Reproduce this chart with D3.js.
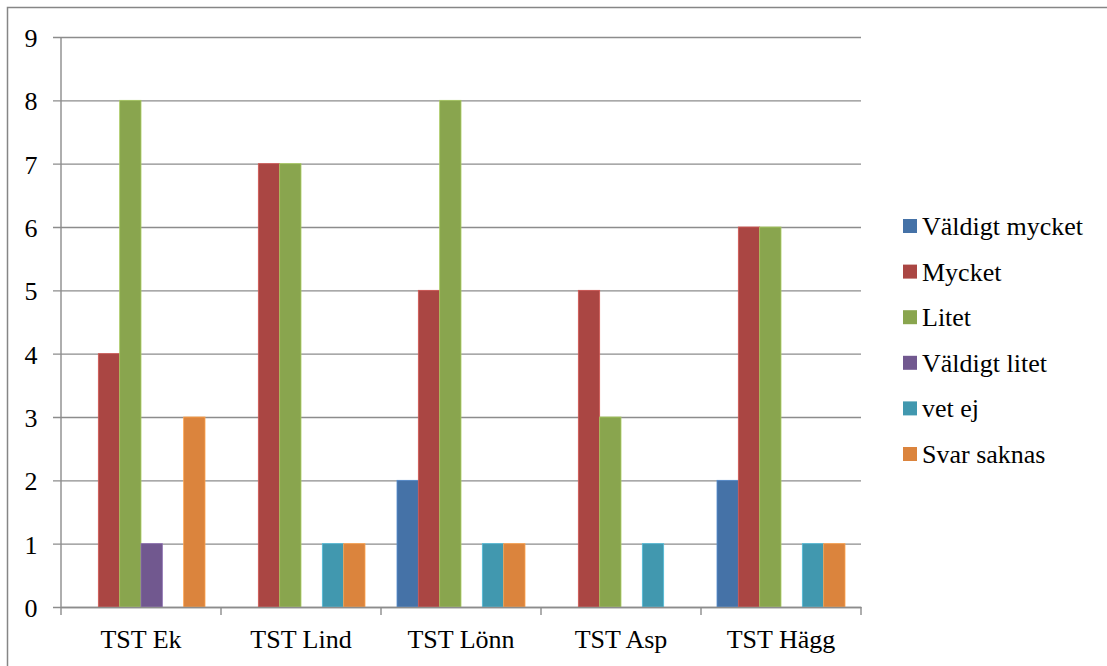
<!DOCTYPE html>
<html>
<head>
<meta charset="utf-8">
<script src="https://cdn.jsdelivr.net/npm/d3@7"></script>
</head>
<body style="margin:0;background:#fff">
<svg id="fig" width="1107" height="666" style="display:block"></svg>
<script>
// Survey answers per group
const categories = ["TST Ek", "TST Lind", "TST Lönn", "TST Asp", "TST Hägg"];
const seriesNames = ["Väldigt mycket", "Mycket", "Litet", "Väldigt litet", "vet ej", "Svar saknas"];
const valdigtMycket = [0, 0, 2, 0, 2];
const mycket        = [4, 7, 5, 5, 6];
const litet         = [8, 7, 8, 3, 6];
const valdigtLitet  = [1, 0, 0, 0, 0];
const vetEj         = [0, 1, 1, 1, 1];
const svarSaknas    = [3, 1, 1, 0, 1];
const yTicks = [0, 1, 2, 3, 4, 5, 6, 7, 8, 9];
const colors = ["#4572A7", "#AA4643", "#89A54E", "#71588F", "#4198AF", "#DB843D"];

const seriesValues = [valdigtMycket, mycket, litet, valdigtLitet, vetEj, svarSaknas];
const labelFamily = "Liberation Serif";

const svg = d3.select("#fig");
const plot = { left: 61, right: 861, top: 37, bottom: 607 };

// Outer frame
svg.append("rect")
  .attr("x", 7.5).attr("y", 7.5)
  .attr("width", 1120).attr("height", 680)
  .attr("fill", "none").attr("stroke", "#868686").attr("stroke-width", 1.5);

const x = d3.scaleBand().domain(categories).range([plot.left, plot.right]).padding(0);
const y = d3.scaleLinear().domain([0, 9]).range([plot.bottom, plot.top]);
// Bars fill 6 of 7.5 slot widths, leaving a 150% gap
const xs = d3.scaleBand().domain(d3.range(seriesNames.length))
  .range([0, x.bandwidth()]).paddingInner(0).paddingOuter(0.75);

// Gridlines drawn by the y axis: ticks run from 8px left of the axis to the right edge
const yAxis = d3.axisLeft(y).tickValues(yTicks).tickSize(8).tickPadding(14).tickFormat(d3.format("d"));
const gy = svg.append("g").attr("transform", `translate(${plot.left},0)`).call(yAxis);
gy.attr("font-family", null).attr("font-size", null);
gy.select(".domain").attr("stroke", "#8c8c8c").attr("stroke-width", 1.4).attr("d", `M0,${plot.bottom}V${plot.top}`);
gy.selectAll(".tick line")
  .attr("x1", plot.right - plot.left)
  .attr("stroke", "#8c8c8c").attr("stroke-width", 1.4);
gy.selectAll(".tick text")
  .attr("x", -23.5).attr("dy", "0.36em")
  .attr("text-anchor", "end")
  .attr("fill", "#000")
  .attr("font-size", 26)
  .style("font-family", `"${labelFamily}"`);

// Bars
const groups = svg.append("g").selectAll("g").data(categories).join("g")
  .attr("transform", c => `translate(${x(c)},0)`);
groups.selectAll("rect")
  .data((c, i) => seriesValues.map((vals, s) => ({ s, v: vals[i] })).filter(d => d.v > 0))
  .join("rect")
  .attr("x", d => xs(d.s))
  .attr("width", xs.bandwidth())
  .attr("y", d => y(d.v))
  .attr("height", d => y(0) - y(d.v))
  .attr("fill", d => colors[d.s])
  .attr("stroke", d => d3.color(colors[d.s]).brighter(0.6))
  .attr("stroke-width", 0.8);

// Category axis
const xAxis = d3.axisBottom(x).tickSize(0).tickPadding(0);
const gx = svg.append("g").attr("transform", `translate(0,${plot.bottom})`).call(xAxis);
gx.attr("font-family", null).attr("font-size", null);
gx.select(".domain").attr("stroke", "#8c8c8c").attr("stroke-width", 1.4);
gx.selectAll(".tick text")
  .attr("y", 41).attr("dy", null)
  .attr("fill", "#000")
  .attr("font-size", 26)
  .style("font-family", `"${labelFamily}"`);
const boundaries = categories.map(c => x(c)).concat([plot.right]);
svg.append("g").selectAll("line").data(boundaries).join("line")
  .attr("x1", d => d).attr("x2", d => d)
  .attr("y1", plot.bottom).attr("y2", plot.bottom + 8)
  .attr("stroke", "#8c8c8c").attr("stroke-width", 1.4);

// Legend
const legend = svg.append("g").attr("transform", "translate(903,226)");
const rows = legend.selectAll("g").data(seriesNames).join("g")
  .attr("transform", (d, i) => `translate(0,${i * 45.6})`);
rows.append("rect")
  .attr("x", 0).attr("y", -7).attr("width", 14).attr("height", 14)
  .attr("fill", (d, i) => colors[i]);
rows.append("text")
  .attr("x", 19).attr("y", 9)
  .attr("font-size", 26)
  .style("font-family", `"${labelFamily}"`)
  .text(d => d);
</script>
</body>
</html>
